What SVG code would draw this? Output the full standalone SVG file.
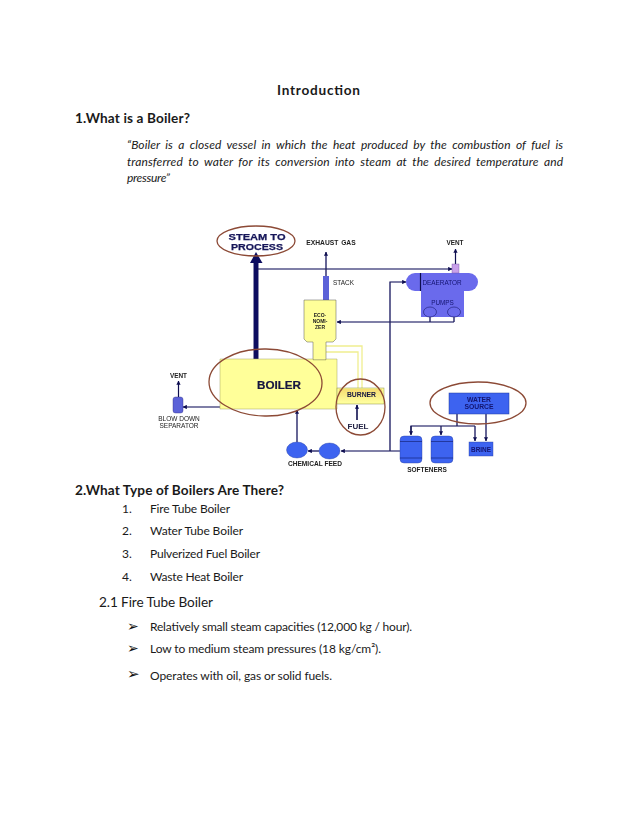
<svg xmlns="http://www.w3.org/2000/svg" width="638" height="826" viewBox="0 0 638 826">
<style>
.doc{font-family:Lato,"Open Sans",sans-serif;fill:#1a1a1a}
.h{font-size:13.6px;font-weight:700}
.q{font-size:12px;font-style:italic}
.li{font-size:12px}
.sub{font-size:13.6px}
.bu{font-family:"DejaVu Sans",sans-serif;font-size:14px;fill:#111}
.lab{font-family:"Liberation Sans",Arial,sans-serif;font-weight:700;text-anchor:middle;fill:#222}
.s6{font-size:6.4px}
.nv{fill:#101060}
.ln{fill:none;stroke:#0b0b50;stroke-width:1.2}
.ar{fill:none;stroke:#0b0b50;stroke-width:1.2;marker-end:url(#a)}
.oval{fill:none;stroke:#8c4a36;stroke-width:1.3}
.blue{fill:#3c64f0;stroke:#2a3fa0;stroke-width:.4}
.pur{fill:#6a6aec}
.duct{fill:none;stroke:#f0ee90;stroke-width:1.3}
</style>
<defs>
<marker id="a" viewBox="0 0 6 6" refX="5.5" refY="3" markerWidth="4.2" markerHeight="4.2" markerUnits="userSpaceOnUse" orient="auto"><path d="M0 0L6 3L0 6z" fill="#0b0b50"/></marker>
<linearGradient id="bg" x1="0" y1="0" x2="0" y2="1"><stop offset="0" stop-color="#f6dc70"/><stop offset="1" stop-color="#ffffa0"/></linearGradient>
<filter id="soft" x="-5%" y="-5%" width="110%" height="110%"><feGaussianBlur stdDeviation="0.3"/></filter>
</defs>
<rect width="638" height="826" fill="#fff"/>

<g id="text-top">
<text class="doc h" x="277" y="95" textLength="83">Introduction</text>
<text class="doc h" x="75" y="123" textLength="115">1.What is a Boiler?</text>
<text class="doc q" x="127" y="149" textLength="436" style="word-spacing:2.5px">“Boiler is a closed vessel in which the heat produced by the combustion of fuel is</text>
<text class="doc q" x="127" y="166" textLength="436" style="word-spacing:2.5px">transferred to water for its conversion into steam at the desired temperature and</text>
<text class="doc q" x="127" y="182" textLength="43">pressure”</text>
</g>

<g id="diagram" filter="url(#soft)">
<g id="connectors">
<path class="duct" d="M326 346H362V388M326 352H358V388"/>
<path d="M253.500 360V263H258.500V360z" class="nv"/>
<path d="M256 252L262.500 263H250z" class="nv"/>
<path class="ar" d="M256 269H452"/>
<path class="ar" d="M326 276V252"/>
<path class="ar" d="M455.500 264V249"/>
<path class="ln" d="M430 317V322M454 317V322"/>
<path class="ar" d="M454 322H337"/>
<path class="ar" d="M390 451V282H406"/>
<path class="ar" d="M400 451H341"/>
<path class="ar" d="M319 451H308"/>
<path class="ar" d="M297 442V410"/>
<path class="ar" d="M220 407H183"/>
<path class="ar" d="M178.500 397V381"/>
<path d="M357 420V405" class="ar" style="stroke-width:1.6"/>
<path class="ln" d="M457 414V426"/>
<path class="ln" d="M411 434V426H475"/>
<path class="ar" d="M411 426V435"/>
<path class="ar" d="M441 426V435"/>
<path class="ar" d="M475 426V441"/>
<path class="ar" d="M486 414V441"/>
</g>

<g id="stack"><rect x="323" y="276" width="6" height="24" fill="#5c62d8"/><text class="lab s6" x="343.500" y="284.500" style="font-weight:400">STACK</text></g>
<g id="exhaust"><text class="lab" font-size="6.700" x="331" y="245" style="word-spacing:1px">EXHAUST GAS</text></g>
<g id="steam"><ellipse class="oval" cx="256" cy="241" rx="39" ry="15"/><text class="lab" x="257" y="239.500" font-size="9.500" textLength="57" lengthAdjust="spacingAndGlyphs" style="fill:#141458;stroke:#141458;stroke-width:.25">STEAM TO</text><text class="lab" x="257" y="249.500" font-size="9.500" textLength="52" lengthAdjust="spacingAndGlyphs" style="fill:#141458;stroke:#141458;stroke-width:.25">PROCESS</text></g>

<g id="economizer"><path d="M304 300H336V339L333 342H326V360H313V342H307L304 339z" fill="#ffff99" stroke="#555" stroke-width=".5"/><text class="lab" font-size="5" x="320" y="317">ECO-</text><text class="lab" font-size="5" x="320" y="323">NOMI-</text><text class="lab" font-size="5" x="320" y="329">ZER</text></g>

<g id="boiler"><path d="M220 359H313V360H326V359H337V409H220z" fill="#ffff99" stroke="#a0a060" stroke-width=".5"/><text class="lab" x="279" y="389" font-size="10.500" textLength="44" lengthAdjust="spacingAndGlyphs" style="fill:#141440;stroke:#141440;stroke-width:.2">BOILER</text><ellipse class="oval" cx="265.500" cy="382.500" rx="56.500" ry="33.500" transform="rotate(1 265.500 382.500)"/></g>

<g id="burner"><rect x="337" y="388" width="47" height="16" fill="#ffff99" stroke="#8a8a50" stroke-width=".5"/><path d="M339 389H382L384 401Q360 405 337 401z" fill="url(#bg)"/><text class="lab" x="361.500" y="396.500" font-size="6.800" style="fill:#141440">BURNER</text><text class="lab" x="358" y="428.500" font-size="8" style="fill:#222244">FUEL</text><ellipse class="oval" cx="360.500" cy="407" rx="24.500" ry="28"/></g>

<g id="deaerator"><rect x="421" y="291" width="43" height="26" class="pur"/><rect x="406" y="273" width="72" height="18" rx="9" class="pur"/><path d="M420.500 273V291" class="ln"/><rect x="452" y="264" width="7" height="9" fill="#c9a0ea" stroke="#7050a0" stroke-width=".4"/>
<text class="lab" x="442" y="284.500" font-size="6.400" style="fill:#141470;font-weight:400">DEAERATOR</text><text class="lab" x="442.500" y="305" font-size="6.400" style="fill:#141470;font-weight:400">PUMPS</text><ellipse cx="430" cy="312" rx="6.500" ry="5" fill="#6a6aec" stroke="#1a1a70" stroke-width=".6"/><ellipse cx="454" cy="312" rx="6.500" ry="5" fill="#6a6aec" stroke="#1a1a70" stroke-width=".6"/></g>
<g id="vent-top"><text class="lab s6" x="455" y="245">VENT</text></g>

<g id="separator"><rect x="173" y="397" width="10" height="16" rx="2.500" fill="#5c62d8" stroke="#2a2a80" stroke-width=".4"/><text class="lab s6" x="178.500" y="378">VENT</text><text class="lab" font-size="6.500" style="font-weight:400" x="179" y="420.500">BLOW DOWN</text><text class="lab" font-size="6.500" style="font-weight:400" x="179" y="427.500">SEPARATOR</text></g>

<g id="chemical"><ellipse class="blue" cx="297" cy="450" rx="10.500" ry="8"/><ellipse class="blue" cx="329.500" cy="451" rx="10.500" ry="8"/><text class="lab" font-size="6.600" x="315" y="465.500">CHEMICAL FEED</text></g>

<g id="softeners"><rect x="400" y="436" width="22" height="27" rx="4" class="blue"/><path d="M400 441.500H422M400 458H422" class="ln" style="stroke-width:.5"/><rect x="431" y="436" width="22" height="27" rx="4" class="blue"/><path d="M431 441.500H453M431 458H453" class="ln" style="stroke-width:.5"/><text class="lab" font-size="6.500" x="427" y="471.500">SOFTENERS</text></g>

<g id="brine"><rect x="469" y="442" width="24" height="14" class="blue"/><text class="lab" x="481" y="451.500" font-size="6.400" style="fill:#141470">BRINE</text></g>

<g id="water"><rect x="449" y="393" width="60" height="21" fill="#3c64f0" stroke="#1f3a9a" stroke-width=".5"/><text class="lab" x="479" y="401.500" font-size="6.800" style="fill:#141470">WATER</text><text class="lab" x="479" y="409" font-size="6.800" style="fill:#141470">SOURCE</text><ellipse class="oval" cx="478" cy="403" rx="48" ry="21"/></g>
</g>

<g id="text-bottom">
<text class="doc h" x="75" y="495" textLength="209">2.What Type of Boilers Are There?</text>
<text class="doc li" x="122" y="513">1.</text><text class="doc li" x="150" y="513" textLength="80">Fire Tube Boiler</text>
<text class="doc li" x="122" y="535">2.</text><text class="doc li" x="150" y="535" textLength="93">Water Tube Boiler</text>
<text class="doc li" x="122" y="558">3.</text><text class="doc li" x="150" y="558" textLength="110">Pulverized Fuel Boiler</text>
<text class="doc li" x="122" y="581">4.</text><text class="doc li" x="150" y="581" textLength="93">Waste Heat Boiler</text>
<text class="doc sub" x="99" y="607" textLength="114">2.1 Fire Tube Boiler</text>
<text class="bu" x="127" y="631">➢</text><text class="doc li" x="150" y="631" textLength="262">Relatively small steam capacities (12,000 kg / hour).</text>
<text class="bu" x="127" y="653">➢</text><text class="doc li" x="150" y="653" textLength="231">Low to medium steam pressures (18 kg/cm²).</text>
<text class="bu" x="127" y="679" style="font-size:15px">➢</text><text class="doc li" x="150" y="680" textLength="182">Operates with oil, gas or solid fuels.</text>
</g>
</svg>
